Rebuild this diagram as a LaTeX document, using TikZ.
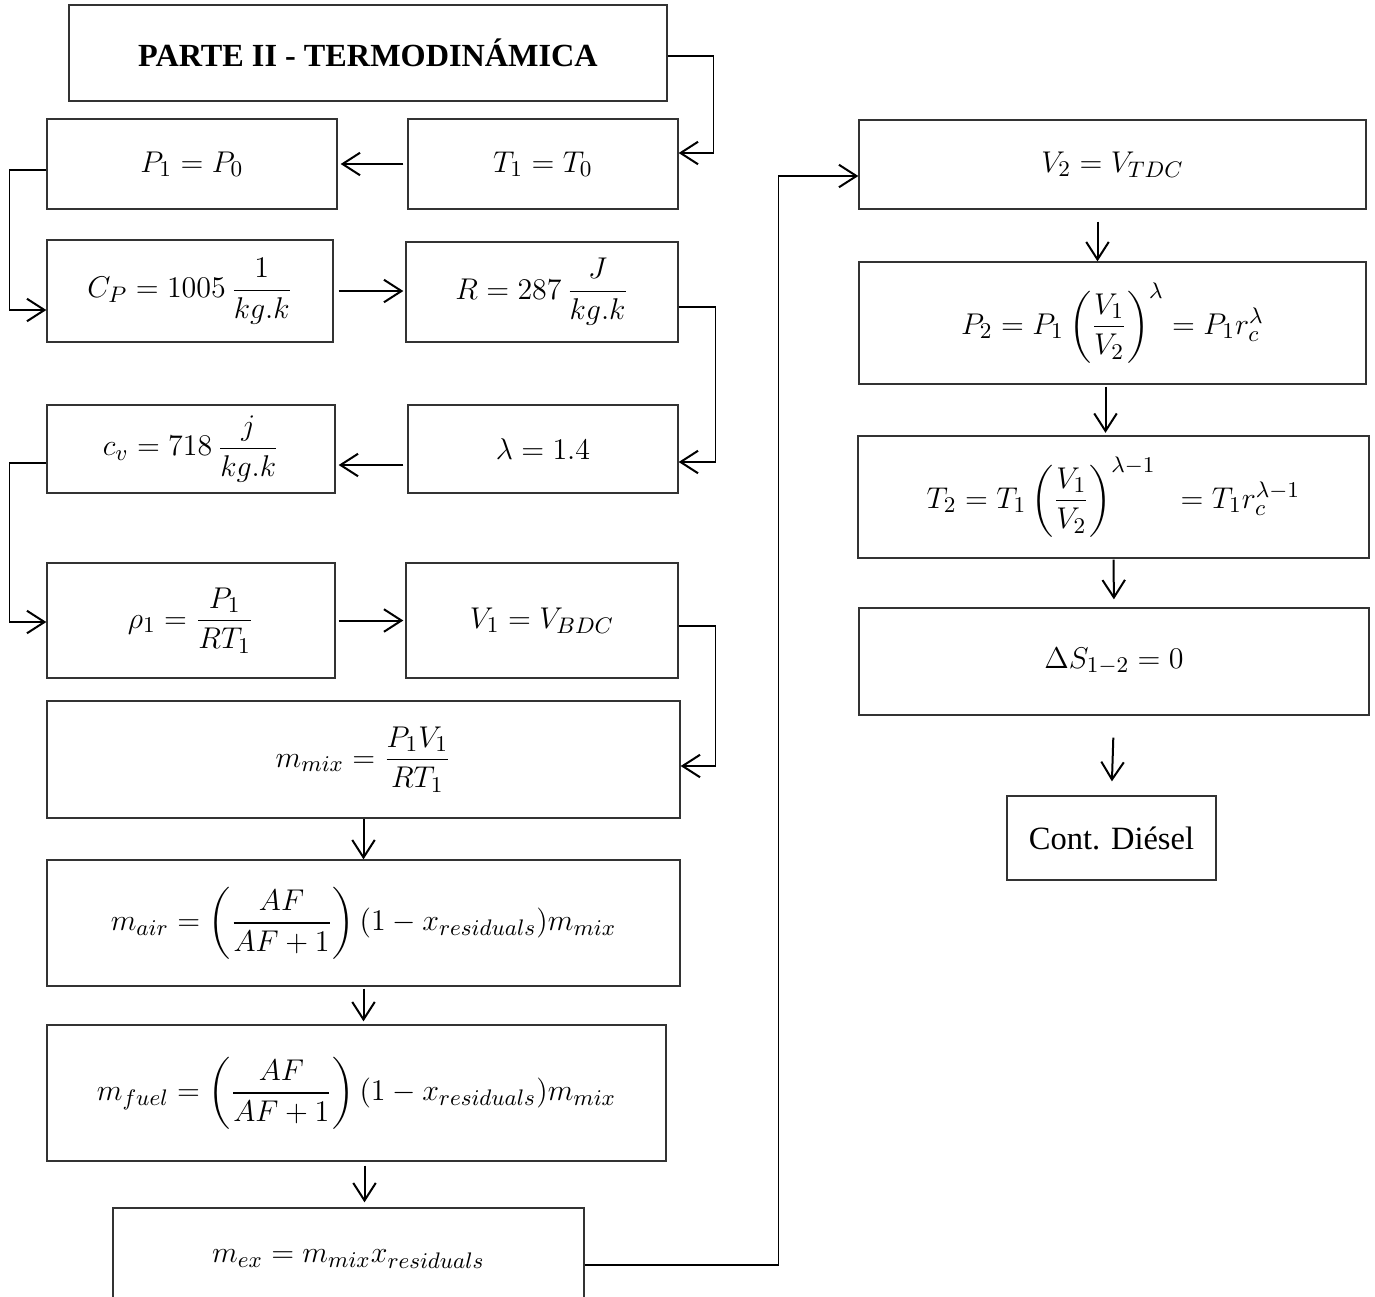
\documentclass[tikz,border=0pt]{standalone}
\usepackage{amsmath}
\usepackage{fontspec}
\setmainfont{Liberation Serif}
\usetikzlibrary{positioning,arrows.meta,calc}

\begin{document}
\begin{tikzpicture}[
    x=0.4pt, y=-0.4pt,
    blk/.style={rectangle, draw=black!80, line width=0.55pt, inner sep=0pt,
        font=\fontsize{13}{15}\selectfont, align=center},
    sz/.style 2 args={minimum width=#1*0.4pt, minimum height=#2*0.4pt},
    arr/.style={-{Straight Barb[length=7pt, width=9pt, line width=0.8pt]}, line width=0.8pt},
    elb/.style={-{Straight Barb[length=7pt, width=9pt, line width=0.8pt]}, line width=0.5pt}
]
\useasboundingbox (0,0) rectangle (1375,1296);

\node[blk, sz={598}{96}, font=\bfseries\fontsize{12.9}{15}\selectfont] (title) at (368,53) {PARTE II - TERMODINÁMICA};
\node[blk, sz={290}{90}] (p1) at (192,164) {$P_1 = P_0$};
\node[blk, sz={270}{90}] (t1) at (543,164) {$T_1 = T_0$};
\node[blk, sz={286}{102}] (cp) at (190,291) {$C_P = 1005\,\dfrac{1}{kg.k}$};
\node[blk, sz={272}{100}] (r) at (542,292) {$R = 287\,\dfrac{J}{kg.k}$};
\node[blk, sz={288}{88}] (cv) at (191,449) {$c_v = 718\,\dfrac{j}{kg.k}$};
\node[blk, sz={270}{88}] (lam) at (543,449) {\raisebox{-4pt}{$\lambda = 1.4$}};
\node[blk, sz={288}{115}] (rho) at (191,620.5) {$\rho_1 = \dfrac{P_1}{RT_1}$};
\node[blk, sz={272}{115}] (v1) at (542,620.5) {$V_1 = V_{BDC}$};
\node[blk, sz={633}{117}] (mmix) at (363.5,759.5) {$m_{mix} = \dfrac{P_1V_1}{RT_1}$};
\node[blk, sz={633}{126}] (mair) at (363.5,923) {$m_{air} = \left(\dfrac{AF}{AF+1}\right)(1 - x_{residuals})m_{mix}$};
\node[blk, sz={619}{136}] (mfuel) at (356.5,1093) {$m_{fuel} = \left(\dfrac{AF}{AF+1}\right)(1 - x_{residuals})m_{mix}$};
\node[blk, sz={471}{102}] (mex) at (348.5,1259) {$m_{ex} = m_{mix}x_{residuals}$};

\node[blk, sz={507}{89}] (v2) at (1112.5,164.5) {$V_2 = V_{TDC}$};
\node[blk, sz={507}{122}] (p2) at (1112.5,323) {$P_2 = P_1\left(\dfrac{V_1}{V_2}\right)^{\lambda} = P_1r_c^{\lambda}$};
\node[blk, sz={511}{122}] (t2) at (1113.5,497) {$T_2 = T_1\left(\dfrac{V_1}{V_2}\right)^{\lambda-1}\;\; = T_1r_c^{\lambda-1}$};
\node[blk, sz={510}{107}] (ds) at (1114,661.5) {$\Delta S_{1-2} = 0$};
\node[blk, sz={209}{84}] (cont) at (1111.5,838) {Cont. Diésel};

\draw[elb] ($(title.east)+(0,3)$) -- ++(46,0) |- ($(t1.east)+(0,-11)$);
\draw[arr, shorten <=1.6pt, shorten >=1.2pt] (t1.west) -- (p1.east);
\draw[elb] ($(p1.west)+(0,6)$) -- ++(-37,0) |- ($(cp.west)+(0,19)$);
\draw[arr, shorten <=2pt, shorten >=0.8pt] (cp.east) -- (cp.east -| r.west);
\draw[elb] ($(r.east)+(0,15)$) -- ++(37,0) |- ($(lam.east)+(0,13)$);
\draw[arr, shorten <=1.6pt, shorten >=1.2pt] ($(lam.west)+(0,16)$) -- ($(cv.east)+(0,16)$);
\draw[elb] ($(cv.west)+(0,14)$) -- ++(-37,0) |- ($(rho.west)+(0,1.5)$);
\draw[arr, shorten <=1.2pt, shorten >=0.8pt] (rho.east) -- (v1.west);
\draw[elb] ($(v1.east)+(0,5.5)$) -- ++(37,0) |- ($(mmix.east)+(0,6.5)$);
\draw[arr] (mmix.south) -- (mair.north);
\draw[arr, shorten <=0.8pt, shorten >=1.2pt] (mair.south) -- (mair.south |- mfuel.north);
\draw[arr, shorten <=1.6pt, shorten >=2pt] ($(mfuel.south)+(8,0)$) -- ($(mex.north)+(16,0)$);
\draw[elb] ($(mex.east)+(0,6)$) -- ++(194,0) |- ($(v2.west)+(0,11.5)$);
\draw[arr, shorten <=4.8pt] ($(v2.south)+(-15,0)$) -- ($(p2.north)+(-15,0)$);
\draw[arr, shorten <=0.8pt, shorten >=1pt] ($(p2.south)+(-7,0)$) -- ($(t2.north)+(-8,0)$);
\draw[arr, shorten <=0.4pt, shorten >=3.2pt] (t2.south) -- (ds.north);
\draw[arr, shorten <=8.8pt, shorten >=5.6pt] (ds.south) -- (cont.north);
\end{tikzpicture}
\end{document}
